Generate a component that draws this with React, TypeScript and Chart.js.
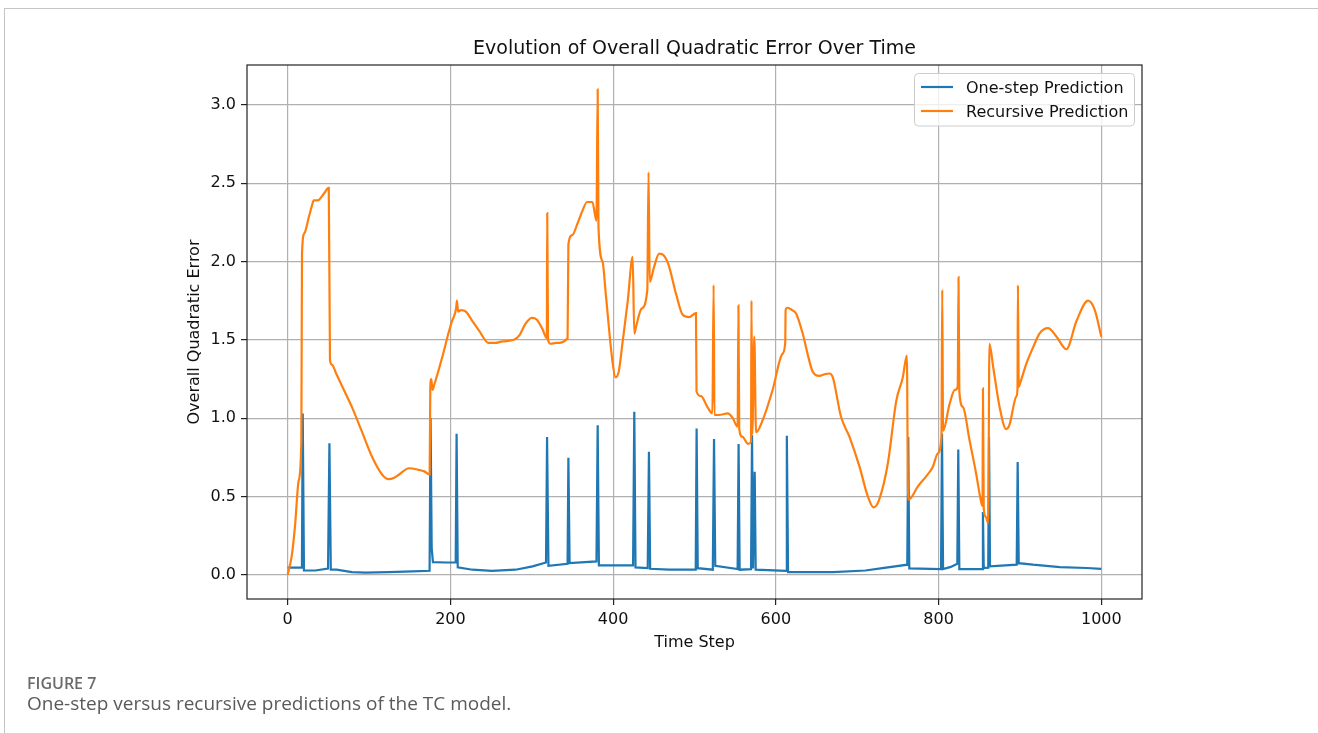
import { useEffect, useRef } from "react";
import { Chart, registerables } from "chart.js";

Chart.register(...registerables);

// Time steps (x) and error values (y) for the recursive predictor
const recursiveSteps = [
  0, 5, 9, 13.5, 16.8, 17.6, 20.5, 25.8, 30, 32, 37, 44, 50.5, 52, 54.5, 60, 70, 79, 90, 104,
  116, 124, 131, 137, 149, 161, 168, 174.5, 175.3, 176.5, 178, 180, 190, 198, 202, 207, 208,
  209.5, 213, 219, 227, 235, 247, 255, 264, 278, 285, 292, 300, 306, 313, 318.5, 319, 320,
  323, 330, 344, 345, 350, 356, 362, 368, 374.5, 379.5, 381, 382, 387, 391, 399, 403, 407,
  411.5, 418, 424, 426, 428, 435, 442, 443.5, 445, 450, 456.6, 462, 468, 477.5, 485.5, 493.5,
  501.8, 502.5, 508, 516, 522, 523.5, 524.5, 530, 541, 547, 553, 554, 555, 559, 566, 569.5,
  570, 571, 573.5, 575.6, 584, 596, 608, 611.5, 612, 614, 620, 625, 633, 639, 645, 653.5, 660,
  666, 670, 680, 690.5, 702.8, 713, 720, 727, 737.6, 748, 756, 761, 762.5, 766, 774, 785, 793,
  799, 803.5, 804.5, 805.5, 813.5, 820, 823.5, 824.5, 825.5, 830, 838, 846, 852.5, 854, 854.5,
  855.5, 858, 861, 862.5, 867, 875, 883, 887, 895.6, 897, 897.5, 898.5, 900, 908, 916, 924,
  934.5, 945, 957, 969.5, 983.8, 992, 1000,
];
const recursiveError = [
  0, 0.12, 0.31, 0.6, 0.86, 2.05, 2.18, 2.28, 2.36, 2.39, 2.39, 2.43, 2.47, 1.37, 1.34, 1.28,
  1.17, 1.07, 0.93, 0.75, 0.64, 0.61, 0.62, 0.64, 0.68, 0.67, 0.66, 0.64, 1.2, 1.25, 1.18, 1.21,
  1.39, 1.55, 1.62, 1.7, 1.75, 1.68, 1.69, 1.68, 1.62, 1.56, 1.48, 1.48, 1.49, 1.5, 1.53, 1.6,
  1.64, 1.63, 1.57, 1.51, 2.31, 1.5, 1.475, 1.48, 1.51, 2.11, 2.17, 2.24, 2.32, 2.38, 2.38, 2.26,
  3.1, 2.22, 2.0, 1.79, 1.37, 1.26, 1.3, 1.48, 1.75, 2.03, 1.54, 1.58, 1.7, 1.82, 2.57, 1.87,
  1.96, 2.05, 2.04, 1.98, 1.79, 1.66, 1.645, 1.67, 1.17, 1.14, 1.07, 1.03, 1.85, 1.02, 1.02,
  1.03, 1.0, 0.945, 1.72, 0.93, 0.88, 0.835, 0.85, 1.75, 0.9, 1.52, 0.91, 0.99, 1.18, 1.41, 1.48,
  1.69, 1.705, 1.69, 1.667, 1.54, 1.41, 1.3, 1.27, 1.28, 1.285, 1.26, 1.01, 0.88, 0.69, 0.5, 0.43,
  0.48, 0.71, 1.11, 1.26, 1.4, 0.48, 0.49, 0.56, 0.63, 0.69, 0.775, 0.88, 1.82, 0.92, 1.09, 1.18,
  1.2, 1.9, 1.17, 1.07, 0.86, 0.65, 0.46, 0.44, 1.19, 0.42, 0.37, 0.33, 1.475, 1.33, 1.07, 0.93,
  0.955, 1.14, 1.19, 1.85, 1.2, 1.22, 1.35, 1.45, 1.54, 1.575, 1.52, 1.44, 1.62, 1.75, 1.69, 1.52,
];

// Time steps (x) and error values (y) for the one-step predictor
const oneStepSteps = [
  0, 17.5, 18.5, 20, 34, 49.6, 51.3, 53, 60, 79, 95.6, 124, 153, 174.4, 175.6, 177, 178.5, 194,
  206.5, 207.6, 209, 227, 251, 280, 301, 317.5, 318.8, 320.5, 344, 345, 346.5, 379.5, 381,
  382.5, 424.5, 426, 427.5, 442.5, 444, 445.5, 469, 501.5, 502.6, 504, 522.5, 524, 525.5, 553,
  554.2, 555.5, 569.5, 570.7, 572, 573, 574, 575.2, 612.5, 613.5, 615, 653.5, 670, 710, 731,
  761.5, 762.7, 764, 803, 804.2, 805.5, 815, 823, 824.2, 825.5, 853.5, 854.5, 855.5, 861, 862,
  863.2, 896, 897.2, 898.5, 916, 949, 982, 1000,
];
const oneStepError = [
  0.045, 0.047, 1.03, 0.027, 0.027, 0.04, 0.84, 0.032, 0.032, 0.017, 0.013, 0.017, 0.021, 0.025,
  1.0, 0.17, 0.08, 0.078, 0.078, 0.9, 0.047, 0.032, 0.025, 0.032, 0.053, 0.078, 0.88, 0.057,
  0.07, 0.747, 0.074, 0.085, 0.955, 0.06, 0.06, 1.04, 0.047, 0.042, 0.785, 0.038, 0.032, 0.032,
  0.934, 0.042, 0.032, 0.866, 0.057, 0.036, 0.834, 0.032, 0.036, 0.89, 0.04, 0.04, 0.658, 0.032,
  0.025, 0.887, 0.017, 0.017, 0.017, 0.027, 0.042, 0.064, 0.88, 0.04, 0.036, 0.9, 0.036, 0.05,
  0.07, 0.8, 0.036, 0.036, 0.4, 0.042, 0.045, 0.88, 0.053, 0.064, 0.72, 0.074, 0.064, 0.049,
  0.043, 0.038,
];

const xTickValues = [0, 200, 400, 600, 800, 1000];
const yTickValues = [0, 0.5, 1.0, 1.5, 2.0, 2.5, 3.0];

const seriesNames = ["One-step Prediction", "Recursive Prediction"];
const seriesColors = ["#1f77b4", "#ff7f0e"];

const chartTitle = "Evolution of Overall Quadratic Error Over Time";
const xAxisTitle = "Time Step";
const yAxisTitle = "Overall Quadratic Error";

const FONT = "'DejaVu Sans', 'Liberation Sans', sans-serif";

function toPoints(xs: number[], ys: number[]) {
  return xs.map((x, i) => ({ x, y: ys[i] }));
}

// Draws the frame around the axes, the title above it and the legend inside it
const decorations = {
  id: "decorations",
  afterDatasetsDraw(chart: any) {
    const { ctx, chartArea } = chart;
    const { left, right, top, bottom } = chartArea;
    ctx.save();

    ctx.strokeStyle = "#222";
    ctx.lineWidth = 1.2;
    ctx.strokeRect(left, top, right - left, bottom - top);

    ctx.fillStyle = "#111";
    ctx.font = `19px ${FONT}`;
    ctx.textAlign = "center";
    ctx.textBaseline = "middle";
    ctx.fillText(chartTitle, (left + right) / 2, top - 16);

    const bx = 914.5;
    const by = 73.5;
    const bw = 220;
    const bh = 52.5;
    ctx.beginPath();
    ctx.roundRect(bx, by, bw, bh, 4);
    ctx.fillStyle = "rgba(255,255,255,0.8)";
    ctx.fill();
    ctx.strokeStyle = "#cccccc";
    ctx.lineWidth = 1;
    ctx.stroke();

    ctx.font = `16px ${FONT}`;
    ctx.textAlign = "left";
    seriesNames.forEach((name, i) => {
      const ly = 87 + i * 24;
      ctx.beginPath();
      ctx.moveTo(921, ly);
      ctx.lineTo(953, ly);
      ctx.strokeStyle = seriesColors[i];
      ctx.lineWidth = 2.2;
      ctx.stroke();
      ctx.fillStyle = "#111";
      ctx.fillText(name, 966, ly + 1.5);
    });

    ctx.restore();
  },
};

export default function App() {
  const canvasRef = useRef<HTMLCanvasElement | null>(null);

  useEffect(() => {
    const canvas = canvasRef.current;
    if (!canvas) return;

    const tickFont = { family: FONT, size: 16 };
    const gridStyle = {
      color: "#b0b0b0",
      lineWidth: 1.2,
      drawTicks: true,
      tickLength: 6,
      tickColor: "#222",
      tickWidth: 1.2,
    };

    const chart = new Chart(canvas, {
      type: "line",
      data: {
        datasets: [
          {
            label: seriesNames[0],
            data: toPoints(oneStepSteps, oneStepError),
            borderColor: seriesColors[0],
            backgroundColor: seriesColors[0],
            borderWidth: 2.2,
            pointRadius: 0,
            tension: 0,
            fill: false,
            order: 1,
          },
          {
            label: seriesNames[1],
            data: toPoints(recursiveSteps, recursiveError),
            borderColor: seriesColors[1],
            backgroundColor: seriesColors[1],
            borderWidth: 2.2,
            pointRadius: 0,
            cubicInterpolationMode: "monotone",
            fill: false,
            order: 0,
          },
        ],
      },
      options: {
        animation: false,
        responsive: false,
        events: [],
        layout: { padding: { left: 185.4, right: 176, top: 65, bottom: 80.4 } },
        plugins: {
          legend: { display: false },
          title: { display: false },
          tooltip: { enabled: false },
        },
        scales: {
          x: {
            type: "linear",
            min: -50,
            max: 1050,
            afterBuildTicks: (scale: any) => {
              scale.ticks = xTickValues.map((value) => ({ value }));
            },
            afterFit: (scale: any) => {
              scale.height = 53.6;
            },
            grid: gridStyle,
            border: { display: false },
            ticks: {
              font: tickFont,
              color: "#111",
              padding: 5.5,
              maxRotation: 0,
              callback: (value: any) => String(value),
            },
            title: {
              display: true,
              text: xAxisTitle,
              font: tickFont,
              color: "#111",
              padding: { top: 0, bottom: 0 },
            },
          },
          y: {
            type: "linear",
            min: -0.155,
            max: 3.255,
            afterBuildTicks: (scale: any) => {
              scale.ticks = yTickValues.map((value) => ({ value }));
            },
            afterFit: (scale: any) => {
              scale.width = 61.6;
            },
            grid: gridStyle,
            border: { display: false },
            ticks: {
              font: tickFont,
              color: "#111",
              padding: 5,
              callback: (value: any) => Number(value).toFixed(1),
            },
            title: {
              display: true,
              text: yAxisTitle,
              font: tickFont,
              color: "#111",
              padding: { top: 0, bottom: 0 },
            },
          },
        },
      },
      plugins: [decorations],
    });

    return () => chart.destroy();
  }, []);

  return (
    <div
      style={{
        position: "fixed",
        left: 0,
        top: 0,
        width: 1318,
        height: 733,
        overflow: "hidden",
        background: "#fff",
      }}
    >
      <div
        style={{
          position: "absolute",
          left: 4,
          top: 8,
          width: 1400,
          height: 800,
          borderLeft: "1.5px solid #c4c4c4",
          borderTop: "1.5px solid #c4c4c4",
        }}
      />
      <canvas
        ref={canvasRef}
        width={1318}
        height={733}
        style={{ position: "absolute", left: 0, top: 0, display: "block" }}
      />
      <div
        style={{
          position: "absolute",
          left: 27,
          top: 672,
          fontFamily: "'Open Sans', 'Noto Sans', sans-serif",
          fontWeight: 600,
          fontSize: 16,
          color: "#6b6b6b",
          whiteSpace: "nowrap",
        }}
      >
        FIGURE 7
      </div>
      <div
        style={{
          position: "absolute",
          left: 27,
          top: 690,
          fontFamily: "'Open Sans', 'Noto Sans', sans-serif",
          fontWeight: 400,
          fontSize: 19,
          color: "#5a5a5a",
          whiteSpace: "nowrap",
        }}
      >
        One-step versus recursive predictions of the TC model.
      </div>
    </div>
  );
}
